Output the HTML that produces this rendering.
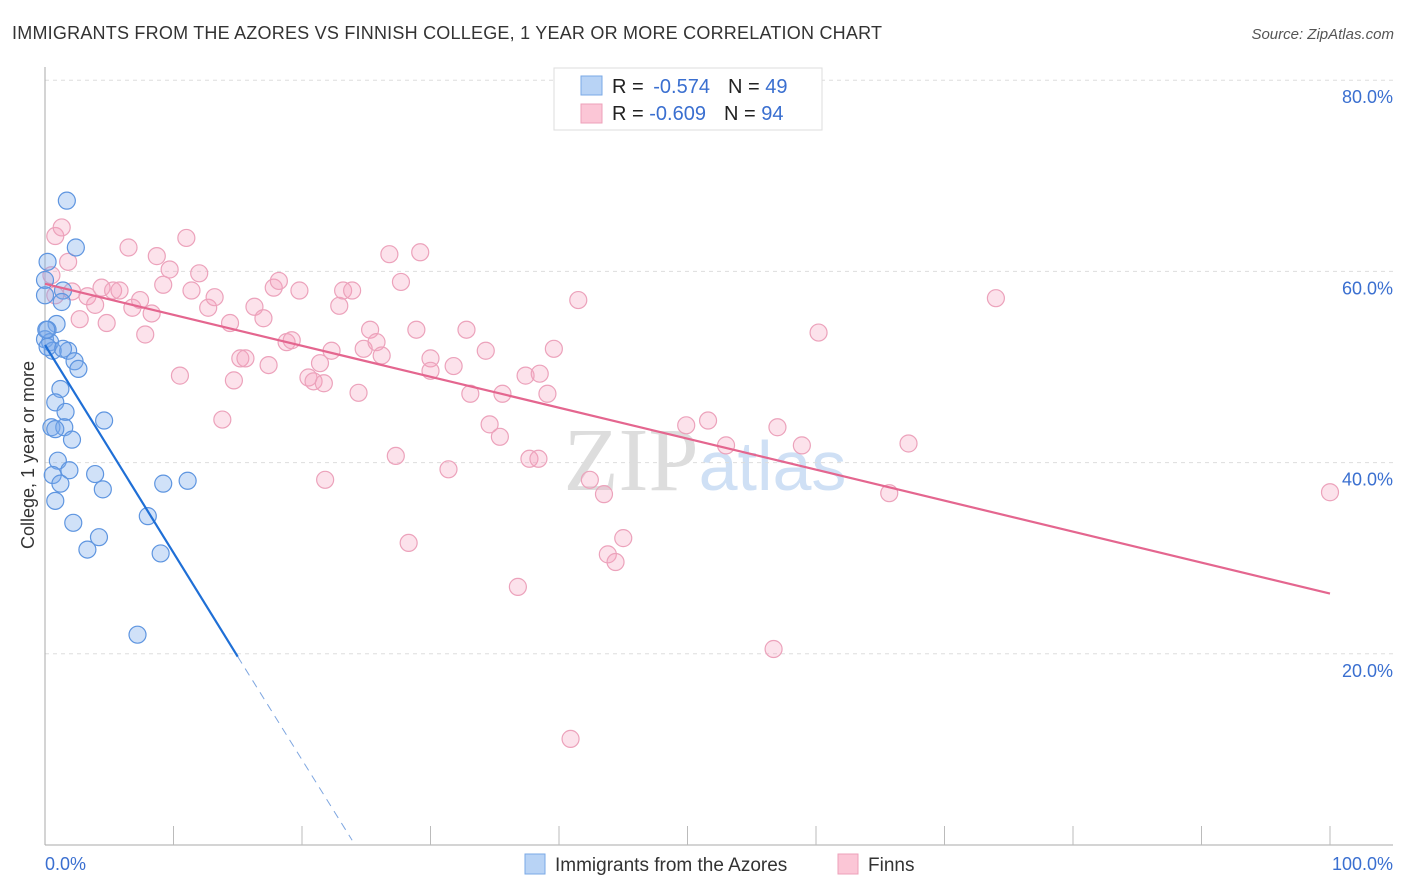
<!DOCTYPE html>
<html><head><meta charset="utf-8"><style>
body{margin:0;background:#fff;font-family:"Liberation Sans",sans-serif;}
svg{display:block}
</style></head><body>
<svg id="chart" width="1406" height="892" xmlns="http://www.w3.org/2000/svg">
<text x="12" y="39" font-size="18" fill="#333" textLength="870">IMMIGRANTS FROM THE AZORES VS FINNISH COLLEGE, 1 YEAR OR MORE CORRELATION CHART</text>
<text x="1394" y="39" font-size="15" fill="#555" font-style="italic" text-anchor="end">Source: ZipAtlas.com</text>
<text x="705" y="490" font-size="90" fill="#ddd" text-anchor="middle" font-family="Liberation Serif">ZIP<tspan fill="#cfe0f5" font-family="Liberation Sans" font-size="70">atlas</tspan></text>
<g id="grid"></g>
<g id="axes"></g>
<g id="pink"></g>
<g id="blue"></g>
<g id="lines"></g>
<text x="34" y="455" font-size="18" fill="#333" text-anchor="middle" transform="rotate(-90 34 455)">College, 1 year or more</text>
<g>
<rect x="554" y="68" width="268" height="62" fill="#fff" stroke="#ddd"/>
<rect x="581" y="76" width="21" height="19" fill="#b8d3f5" stroke="#7aa8e6"/>
<rect x="581" y="104" width="21" height="19" fill="#fbc6d6" stroke="#eea0b9"/>
<text x="612" y="93" font-size="20" fill="#222">R = <tspan fill="#3a6fd0" dx="4">-0.574</tspan><tspan dx="18">N = </tspan><tspan fill="#3a6fd0">49</tspan></text>
<text x="612" y="120" font-size="20" fill="#222">R = <tspan fill="#3a6fd0">-0.609</tspan><tspan dx="18">N = </tspan><tspan fill="#3a6fd0">94</tspan></text>
</g>
<g>
<rect x="525" y="854" width="20" height="20" fill="#b8d3f5" stroke="#7aa8e6"/>
<text x="555" y="871" font-size="19" fill="#333">Immigrants from the Azores</text>
<rect x="838" y="854" width="20" height="20" fill="#fbc6d6" stroke="#eea0b9"/>
<text x="868" y="871" font-size="19" fill="#333">Finns</text>
</g>
</svg>
<script>
const yTicks=[20,40,60,80];
const yTickLabels=["20.0%","40.0%","60.0%","80.0%"];
const xTickCount=10;
const blueX=[1.7,2.4,0.2,0,1.4,0,1.3,0.9,0.2,0,0.4,1.8,0.6,1.4,2.3,2.6,1.2,0.8,1.6,0.5,1.5,2.1,4.6,1.0,1.9,3.9,0.6,1.2,4.5,9.2,11.1,0.8,2.2,8.0,4.2,3.3,9.0,7.2,0.2,0.1,0.8];
const blueY=[67.4,62.5,61,59.1,58,57.5,56.8,54.5,53.9,52.9,52.6,51.7,51.7,51.9,50.6,49.8,47.7,46.3,45.3,43.7,43.7,42.4,44.4,40.2,39.2,38.8,38.7,37.8,37.2,37.8,38.1,36,33.7,34.4,32.2,30.9,30.5,22,52.1,53.9,43.5];
const pinkX=[0.8,1.3,0.5,1.8,0.8,2.1,2.7,3.3,3.9,4.8,4.4,5.3,5.8,6.5,6.8,7.4,7.8,8.3,8.7,9.2,9.7,10.5,11,11.4,12,12.7,13.2,13.8,14.4,14.7,15.2,15.6,16.3,17,17.4,17.8,18.2,18.8,19.2,19.8,20.5,20.9,21.4,21.7,22.3,22.9,23.2,23.9,24.4,24.8,25.3,25.8,26.2,26.8,27.3,27.7,28.3,28.9,29.2,30,30.0,31.4,31.8,32.8,33.1,34.3,34.6,35.4,35.6,36.8,37.4,37.7,38.4,38.5,39.1,39.6,40.9,41.5,42.4,43.5,43.8,44.4,45,49.9,51.6,53,56.7,57,58.9,60.2,65.7,67.2,74,100,21.8];
const pinkY=[63.7,64.6,59.6,61,57.5,57.9,55,57.4,56.5,54.6,58.3,58,58,62.5,56.2,57,53.4,55.6,61.6,58.6,60.2,49.1,63.5,58,59.8,56.2,57.3,44.5,54.6,48.6,50.9,50.9,56.3,55.1,50.2,58.3,59,52.6,52.8,58,48.9,48.5,50.4,48.3,51.7,56.4,58,58,47.3,51.9,53.9,52.6,51.2,61.8,40.7,58.9,31.6,53.9,62,50.9,49.6,39.3,50.1,53.9,47.2,51.7,44,42.7,47.2,27,49.1,40.4,40.4,49.3,47.2,51.9,11.1,57,38.2,36.7,30.4,29.6,32.1,43.9,44.4,41.8,20.5,43.7,41.8,53.6,36.8,42,57.2,36.9,38.2];
const blueLine=[[0,52.3],[15,19.7]];
const blueDash=[[15,19.7],[23.9,0.5]];
const pinkLine=[[0,58.7],[100,26.3]];
const NS="http://www.w3.org/2000/svg";
const X=v=>45+v*12.85, Y=v=>845-v*9.56;
function mk(t,a,p){const e=document.createElementNS(NS,t);for(const k in a)e.setAttribute(k,a[k]);p.appendChild(e);return e;}
const grid=document.getElementById('grid'),axes=document.getElementById('axes');
yTicks.forEach((t,i)=>{
 const l=mk('line',{x1:45,x2:1393,y1:Y(t),y2:Y(t),stroke:'#ddd','stroke-dasharray':'4,4'},grid);
 
 
 const tx=mk('text',{x:1393,y:Y(t)+23,'font-size':18,fill:'#3a6fd0','text-anchor':'end'},axes);
 tx.textContent=yTickLabels[i];
 
 
});
mk('line',{x1:45,x2:45,y1:67,y2:845,stroke:'#aaa'},axes);
mk('line',{x1:45,x2:1393,y1:845,y2:845,stroke:'#aaa'},axes);
for(let i=1;i<=xTickCount;i++){const t=mk('line',{x1:X(i*10),x2:X(i*10),y1:826,y2:845,stroke:'#bbb'},axes);
 
 }
const x0=mk('text',{x:45,y:870,'font-size':18,fill:'#3a6fd0'},axes);x0.textContent='0.0%';


const x1=mk('text',{x:1393,y:870,'font-size':18,fill:'#3a6fd0','text-anchor':'end'},axes);x1.textContent='100.0%';


const pg=document.getElementById('pink');
pinkX.forEach((v,i)=>{const c=mk('circle',{cx:X(v),cy:Y(pinkY[i]),r:8.5,fill:'rgba(245,160,190,0.3)',stroke:'#eca2bb','stroke-width':1.2},pg);
 
 });
const bg=document.getElementById('blue');
blueX.forEach((v,i)=>{const c=mk('circle',{cx:X(v),cy:Y(blueY[i]),r:8.5,fill:'rgba(120,170,235,0.35)',stroke:'#5e95e0','stroke-width':1.2},bg);
 
 });
const lg=document.getElementById('lines');
const pl=mk('line',{x1:X(pinkLine[0][0]),y1:Y(pinkLine[0][1]),x2:X(pinkLine[1][0]),y2:Y(pinkLine[1][1]),stroke:'#e4668f','stroke-width':2.2},lg);


const bl=mk('line',{x1:X(blueLine[0][0]),y1:Y(blueLine[0][1]),x2:X(blueLine[1][0]),y2:Y(blueLine[1][1]),stroke:'#1f6fd6','stroke-width':2.2},lg);


const bd=mk('line',{x1:X(blueDash[0][0]),y1:Y(blueDash[0][1]),x2:X(blueDash[1][0]),y2:Y(blueDash[1][1]),stroke:'#7ea6e0','stroke-width':1,'stroke-dasharray':'8,6'},lg);


</script>
</body></html>
